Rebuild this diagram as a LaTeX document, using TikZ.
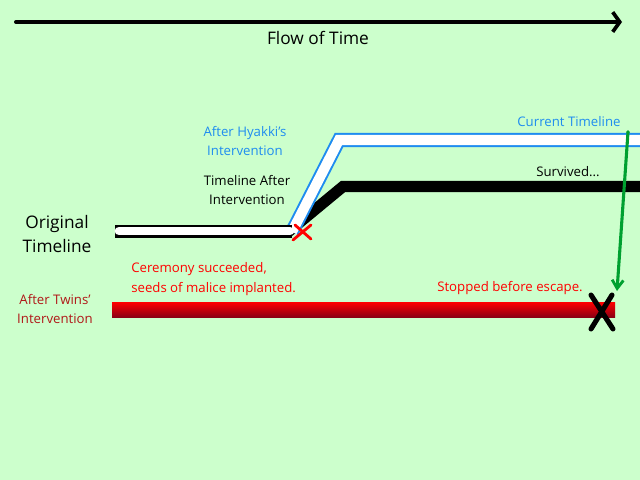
\documentclass[tikz,border=0pt]{standalone}
\usepackage{fontspec}
\setmainfont{Open Sans}
\usetikzlibrary{arrows.meta,positioning}
\definecolor{bgGreen}{HTML}{CCFFCC}
\definecolor{hyakkiBlue}{HTML}{1E8CF0}
\definecolor{twinsRed}{HTML}{B01818}
\definecolor{barDark}{HTML}{8C0014}
\definecolor{arrowGreen}{HTML}{00A030}

\begin{document}
\begin{tikzpicture}[
  x=0.025cm, y=-0.025cm,
  >=Stealth,
  label/.style={font=\fontsize{9.4}{14}\selectfont, align=center, inner sep=0pt},
  biglabel/.style={font=\fontsize{12.3}{17}\selectfont, align=center, inner sep=0pt},
  timeflow/.style={-{Straight Barb[length=5pt,width=14pt,line width=2.6pt]}, line width=2.8pt, line cap=round},
  outline/.style={line width=10pt, line join=miter},
  core/.style={white, line width=7.2pt, line join=miter},
  cross/.style={line cap=round}
]
% background and frame
\fill[bgGreen] (0,0) rectangle (640,480);
\useasboundingbox (0,0) rectangle (640,480);

% flow of time
\coordinate (tStart) at (16,22);
\coordinate (tEnd) at (622,22);
\draw[timeflow] (tStart) -- (tEnd);
\node[font=\fontsize{12.3}{14}\selectfont, inner sep=0pt] (flow) at (318,38) {Flow of Time};

% junction and bends
\coordinate (origStart) at (119,231);
\coordinate (split) at (292,231.8);
\coordinate (survBend) at (343,186.5);
\coordinate (survEnd) at (645,186.5);
\coordinate (curBend) at (339,140);
\coordinate (curEnd) at (645,140);

% survived timeline
\draw[line width=8pt, line join=miter] (288,232) -- (survBend) -- (survEnd);

% current timeline
\draw[hyakkiBlue, outline] (split) -- (curBend) -- (curEnd);
\draw[core] (split) -- (curBend) -- (curEnd);

% original timeline
\draw[black, line width=9.2pt] (115,231.8) -- (split);
\draw[white, line width=6.2pt, line cap=round] (origStart) -- (290,231);

% small red cross at the split
\draw[red, cross, line width=2pt] (295,225) -- (311,239) (311,225) -- (293,240);

% twins' timeline
\shade[top color=red, bottom color=barDark] (112,302) rectangle (615,317);

% green jump and black cross
\coordinate (jumpTop) at (628,132);
\coordinate (jumpEnd) at (617,291);
\fill[arrowGreen] (jumpTop) circle (1.8);
\draw[arrowGreen, line width=2.2pt, -{Straight Barb[length=6pt,width=8pt,line width=2pt]}] (jumpTop) -- (jumpEnd);
\draw[black, cross, line width=3.6pt] (591,295) -- (613,329) (612,295) -- (591,329);

% labels
\node[label, text=hyakkiBlue] (hyakki) at (245,141) {After Hyakki's\\Intervention};
\node[label] (after) at (247,190) {Timeline After\\Intervention};
\node[biglabel] (original) at (57,234) {Original\\Timeline};
\node[label, text=hyakkiBlue] (current) at (569,122) {Current Timeline};
\node[label] (survived) at (568,172) {Survived...};
\node[label, text=red, align=left, anchor=west] (ceremony) at (131,279) {Ceremony succeeded,\\seeds of malice implanted.};
\node[label, text=twinsRed] (twins) at (55,309) {After Twins'\\Intervention};
\node[label, text=red] (stopped) at (510,288) {Stopped before escape.};
\end{tikzpicture}
\end{document}
